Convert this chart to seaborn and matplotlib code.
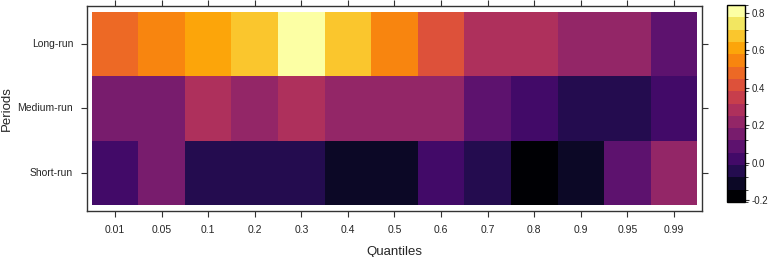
import numpy as np
import pandas as pd
import matplotlib
matplotlib.use('Agg')
import matplotlib.pyplot as plt
import seaborn as sns
from matplotlib.colors import BoundaryNorm, ListedColormap

### data ############################################
quantiles = ['0.01', '0.05', '0.1', '0.2', '0.3', '0.4', '0.5', '0.6', '0.7', '0.8', '0.9', '0.95', '0.99']
periods = ['Long-run', 'Medium-run', 'Short-run']
long_run = [0.48, 0.55, 0.61, 0.67, 0.84, 0.68, 0.54, 0.41, 0.28, 0.29, 0.22, 0.21, 0.08]
medium_run = [0.15, 0.14, 0.28, 0.21, 0.27, 0.22, 0.21, 0.22, 0.08, 0.02, -0.05, -0.05, 0.02]
short_run = [0.02, 0.15, -0.05, -0.05, -0.04, -0.11, -0.12, 0.02, -0.05, -0.21, -0.12, 0.08, 0.21]

df = pd.DataFrame([long_run, medium_run, short_run], index=periods, columns=quantiles)

### levelplot-like colours: 16 equal cuts between min and max ###
n_lev = 16
levels = np.linspace(df.values.min(), df.values.max(), n_lev + 1)
cmap = ListedColormap(plt.get_cmap('inferno').resampled(n_lev)(np.arange(n_lev)))
norm = BoundaryNorm(levels, n_lev)

### plot ############################################
sns.set_style('white')
plt.rcParams['font.family'] = ['Liberation Sans', 'DejaVu Sans']

fig = plt.figure(figsize=(7.72, 2.57), dpi=100)
ax = fig.add_axes([0.1127, 0.179, 0.7966, 0.7977])
cax = fig.add_axes([0.9417, 0.214, 0.0233, 0.7665])

sns.heatmap(df, ax=ax, cmap=cmap, norm=norm, cbar_ax=cax, linewidths=0,
            xticklabels=quantiles, yticklabels=periods)

# padding around the cells like lattice
ax.set_xlim(-0.1, len(quantiles) + 0.1)
ax.set_ylim(len(periods) + 0.09, -0.09)
for s in ax.spines.values():
    s.set_visible(True)
    s.set_color('#333333')
    s.set_linewidth(1)

ax.tick_params(axis='both', which='both', direction='out', length=4, width=0.8, color='#333333',
               top=True, right=True, bottom=True, left=True, labeltop=False, labelright=False,
               labelsize=7.5, pad=6)
plt.setp(ax.get_yticklabels(), rotation=0)
plt.setp(ax.get_xticklabels(), rotation=0)
ax.set_xlabel('Quantiles', fontsize=9.5, labelpad=8)
ax.set_ylabel('Periods', fontsize=9.5, labelpad=3)

cb = ax.collections[0].colorbar
cb.set_ticks([-0.2, 0.0, 0.2, 0.4, 0.6, 0.8])
cb.set_ticklabels(['-0.2', '0.0', '0.2', '0.4', '0.6', '0.8'])
cb.outline.set_visible(True)
cb.outline.set_edgecolor('black')
cb.outline.set_linewidth(1)
cax.tick_params(direction='out', length=3, width=0.8, color='#333333', labelsize=7, pad=2)

fig.savefig('out.png', dpi=100)
